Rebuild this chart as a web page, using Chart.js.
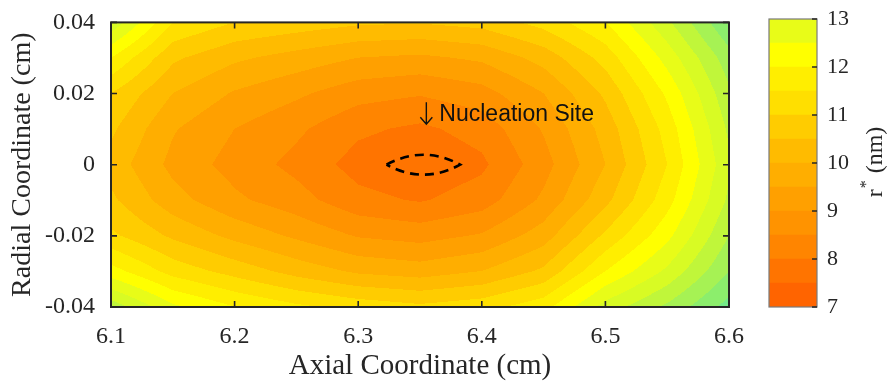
<!DOCTYPE html>
<html>
<head>
<meta charset="utf-8">
<script src="https://cdn.jsdelivr.net/npm/chart.js@4"></script>
<style>
  body { margin: 0; background: #fff; }
  #wrap { position: relative; width: 892px; height: 387px; }
  #main { position: absolute; left: 0; top: 0; }
  #bar { position: absolute; left: 760px; top: 0; }
</style>
</head>
<body>
<div id="wrap">
  <canvas id="main" width="760" height="387"></canvas>
  <canvas id="bar" width="132" height="387"></canvas>
</div>
<script>
// grid nodes (cm)
const xNodes = [6.10, 6.15, 6.20, 6.25, 6.30, 6.35, 6.40, 6.45, 6.50, 6.55, 6.60];
const yNodes = [0.04, 0.03, 0.02, 0.01, 0, -0.01, -0.02, -0.03, -0.04];

// r* (nm), one row per radial coordinate
const rowP04 = [13.4, 11.5, 11.0, 10.8, 10.6, 10.55, 10.7, 11.2, 12.0, 13.4, 15.0];
const rowP03 = [12.0, 10.6, 10.1, 9.8, 9.5, 9.4, 9.6, 10.2, 11.2, 12.7, 14.3];
const rowP02 = [11.0, 10.0, 9.45, 9.1, 8.7, 8.55, 8.8, 9.5, 10.6, 12.1, 13.9];
const rowP01 = [10.6, 9.55, 9.0, 8.6, 8.1, 7.9, 8.2, 9.05, 10.2, 11.7, 13.6];
const row00  = [10.3, 9.35, 8.8, 8.35, 7.8, 7.6, 7.9, 8.8, 10.0, 11.5, 13.4];
const rowM01 = [10.6, 9.7, 9.1, 8.7, 8.15, 7.95, 8.25, 9.1, 10.35, 11.8, 13.6];
const rowM02 = [11.1, 10.4, 9.85, 9.4, 8.95, 8.8, 9.05, 9.75, 11.1, 12.35, 14.0];
const rowM03 = [12.2, 11.3, 10.8, 10.3, 9.9, 9.75, 10.0, 10.6, 12.0, 13.1, 14.5];
const rowM04 = [13.8, 12.6, 12.0, 11.6, 11.3, 11.1, 11.3, 11.8, 13.2, 14.1, 15.2];
const rows = [rowP04, rowP03, rowP02, rowP01, row00, rowM01, rowM02, rowM03, rowM04];

// contour levels and band colours
const levels = [7, 7.5, 8, 8.5, 9, 9.5, 10, 10.5, 11, 11.5, 12, 12.5, 13, 13.5, 14, 14.5, 15, 15.5];
const bandColors = ['#ff6400', '#ff7400', '#ff8500', '#ff9300', '#ffa000', '#ffae00',
  '#ffbb00', '#ffcc00', '#ffdf00', '#ffee00', '#ffff00', '#e8fc18',
  '#d8fb24', '#c0f63a', '#a6f254', '#8cee6c', '#74ea88'];

const xTicks = [6.1, 6.2, 6.3, 6.4, 6.5, 6.6];
const yTicks = [-0.04, -0.02, 0, 0.02, 0.04];
const yTickLabels = ['-0.04', '-0.02', '0', '0.02', '0.04'];
const cbTicks = [7, 8, 9, 10, 11, 12, 13];

const site = { x: 6.3527, y: 0, rx: 0.0298, ry: 0.0028, label: 'Nucleation Site', labelY: 0.0142 };

const ink = '#262626';
const serif = 'Liberation Serif, Times New Roman, serif';

function sample(xv, yv) {
  let i = 0;
  while (i < xNodes.length - 2 && xv > xNodes[i + 1]) i++;
  let j = 0;
  while (j < yNodes.length - 2 && yv < yNodes[j + 1]) j++;
  const tx = Math.min(1, Math.max(0, (xv - xNodes[i]) / (xNodes[i + 1] - xNodes[i])));
  const ty = Math.min(1, Math.max(0, (yv - yNodes[j]) / (yNodes[j + 1] - yNodes[j])));
  const a = rows[j][i], b = rows[j][i + 1], c = rows[j + 1][i], d = rows[j + 1][i + 1];
  return (a * (1 - tx) + b * tx) * (1 - ty) + (c * (1 - tx) + d * tx) * ty;
}

function hexRgb(h) {
  return [parseInt(h.substr(1, 2), 16), parseInt(h.substr(3, 2), 16), parseInt(h.substr(5, 2), 16)];
}
const bandRgb = bandColors.map(hexRgb);

const contourPlugin = {
  id: 'contour',
  beforeDatasetsDraw(chart) {
    const ctx = chart.ctx, a = chart.chartArea;
    const xs = chart.scales.x, ys = chart.scales.y;
    const w = Math.round(a.right - a.left), h = Math.round(a.bottom - a.top);
    const img = ctx.createImageData(w, h);
    for (let py = 0; py < h; py++) {
      const yv = ys.getValueForPixel(a.top + py + 0.5);
      for (let px = 0; px < w; px++) {
        const xv = xs.getValueForPixel(a.left + px + 0.5);
        const v = sample(xv, yv);
        let k = Math.floor((v - levels[0]) / 0.5);
        k = Math.max(0, Math.min(bandRgb.length - 1, k));
        const c = bandRgb[k], o = (py * w + px) * 4;
        img.data[o] = c[0]; img.data[o + 1] = c[1]; img.data[o + 2] = c[2]; img.data[o + 3] = 255;
      }
    }
    ctx.putImageData(img, Math.round(a.left), Math.round(a.top));
  },
  afterDatasetsDraw(chart) {
    const ctx = chart.ctx, a = chart.chartArea;
    const xs = chart.scales.x, ys = chart.scales.y;
    // dashed site outline
    const cx = xs.getPixelForValue(site.x), cy = ys.getPixelForValue(site.y);
    const rx = xs.getPixelForValue(site.x + site.rx) - cx;
    const ry = cy - ys.getPixelForValue(site.y + site.ry);
    ctx.save();
    ctx.strokeStyle = '#000';
    ctx.lineWidth = 2.6;
    ctx.setLineDash([9, 6]);
    ctx.beginPath();
    ctx.moveTo(cx - rx, cy);
    ctx.quadraticCurveTo(cx, cy - 2 * ry, cx + rx, cy);
    ctx.quadraticCurveTo(cx, cy + 2 * ry, cx - rx, cy);
    ctx.stroke();
    ctx.setLineDash([]);
    // label: thin arrow then text
    const lx = xs.getPixelForValue(site.x), ly = ys.getPixelForValue(site.labelY);
    ctx.strokeStyle = '#111';
    ctx.lineWidth = 1.4;
    ctx.beginPath();
    ctx.moveTo(lx + 3, ly - 12); ctx.lineTo(lx + 3, ly + 10);
    ctx.moveTo(lx - 3, ly + 3); ctx.lineTo(lx + 3, ly + 10); ctx.lineTo(lx + 9, ly + 3);
    ctx.stroke();
    ctx.fillStyle = '#111';
    ctx.textBaseline = 'middle';
    ctx.textAlign = 'left';
    ctx.font = '23px Liberation Sans, Arial, sans-serif';
    ctx.fillText(site.label, lx + 16, ly);
    // frame and inward ticks
    ctx.strokeStyle = ink;
    ctx.lineWidth = 2;
    ctx.strokeRect(a.left, a.top, a.right - a.left, a.bottom - a.top);
    ctx.lineWidth = 1.6;
    ctx.beginPath();
    xTicks.forEach(v => {
      const p = xs.getPixelForValue(v);
      ctx.moveTo(p, a.bottom); ctx.lineTo(p, a.bottom - 6);
      ctx.moveTo(p, a.top); ctx.lineTo(p, a.top + 6);
    });
    yTicks.forEach(v => {
      const p = ys.getPixelForValue(v);
      ctx.moveTo(a.left, p); ctx.lineTo(a.left + 6, p);
      ctx.moveTo(a.right, p); ctx.lineTo(a.right - 6, p);
    });
    ctx.stroke();
    ctx.restore();
  }
};

new Chart(document.getElementById('main'), {
  type: 'scatter',
  data: {
    datasets: [{ data: xNodes.map(x => ({ x: x, y: 0 })), pointRadius: 0, showLine: false }]
  },
  options: {
    responsive: false,
    animation: false,
    events: [],
    layout: { padding: { top: 19, right: 31, left: 0, bottom: 0 } },
    plugins: { legend: { display: false }, tooltip: { enabled: false } },
    scales: {
      x: {
        type: 'linear', min: 6.1, max: 6.6,
        afterBuildTicks: s => { s.ticks = xTicks.map(v => ({ value: v })); },
        afterFit: s => { s.height = 80; },
        grid: { display: false }, border: { display: false },
        ticks: { color: ink, font: { family: serif, size: 24 }, padding: 7, maxRotation: 0,
          callback: v => v.toFixed(1) },
        title: { display: true, text: 'Axial Coordinate (cm)', color: ink,
          font: { family: serif, size: 29 }, padding: { top: 0, bottom: 3 } }
      },
      y: {
        type: 'linear', min: -0.04, max: 0.04,
        afterBuildTicks: s => { s.ticks = yTicks.map(v => ({ value: v })); },
        afterFit: s => { s.width = 111; },
        grid: { display: false }, border: { display: false },
        ticks: { color: ink, font: { family: serif, size: 24 }, padding: 8,
          callback: (v, i) => yTickLabels[i] },
        title: { display: true, text: 'Radial Coordinate (cm)', color: ink,
          font: { family: serif, size: 28 }, padding: { top: 6, bottom: 0 } }
      }
    }
  },
  plugins: [contourPlugin]
});

// colour bar
const cbPlugin = {
  id: 'cbFrame',
  afterDatasetsDraw(chart) {
    const ctx = chart.ctx, a = chart.chartArea, ys = chart.scales.y;
    ctx.save();
    ctx.strokeStyle = '#7a7a7a';
    ctx.lineWidth = 1.2;
    ctx.strokeRect(a.left, a.top, a.right - a.left, a.bottom - a.top);
    ctx.strokeStyle = ink;
    ctx.lineWidth = 1.6;
    ctx.beginPath();
    cbTicks.forEach(v => {
      const p = ys.getPixelForValue(v);
      ctx.moveTo(a.right, p); ctx.lineTo(a.right - 5, p);
    });
    ctx.stroke();
    // axis title r* (nm), reading upward
    ctx.translate(116, (a.top + a.bottom) / 2);
    ctx.rotate(-Math.PI / 2);
    ctx.fillStyle = ink;
    ctx.textBaseline = 'middle';
    ctx.textAlign = 'left';
    ctx.font = '24px ' + serif;
    const w1 = ctx.measureText('r').width;
    const w3 = ctx.measureText(' (nm)').width;
    ctx.font = '16px ' + serif;
    const w2 = ctx.measureText('*').width;
    const x0 = -(w1 + w2 + w3) / 2;
    ctx.font = '24px ' + serif;
    ctx.fillText('r', x0, 0);
    ctx.font = '16px ' + serif;
    ctx.fillText('*', x0 + w1 + 1, -9);
    ctx.font = '24px ' + serif;
    ctx.fillText(' (nm)', x0 + w1 + w2 + 2, 0);
    ctx.restore();
  }
};

new Chart(document.getElementById('bar'), {
  type: 'bar',
  data: {
    labels: ['r*'],
    datasets: levels.slice(0, 12).map((lo, i) => ({
      data: [[lo, levels[i + 1]]],
      backgroundColor: bandColors[i],
      borderWidth: 0,
      grouped: false,
      barPercentage: 1,
      categoryPercentage: 1
    }))
  },
  options: {
    responsive: false,
    animation: false,
    events: [],
    layout: { padding: { top: 19, bottom: 80, left: 9, right: 0 } },
    plugins: { legend: { display: false }, tooltip: { enabled: false } },
    scales: {
      x: { display: false },
      y: {
        position: 'right', min: 7, max: 13,
        afterBuildTicks: s => { s.ticks = cbTicks.map(v => ({ value: v })); },
        afterFit: s => { s.width = 75; },
        grid: { display: false }, border: { display: false },
        ticks: { color: ink, font: { family: serif, size: 22 }, padding: 2 }
      }
    }
  },
  plugins: [cbPlugin]
});
</script>
</body>
</html>
